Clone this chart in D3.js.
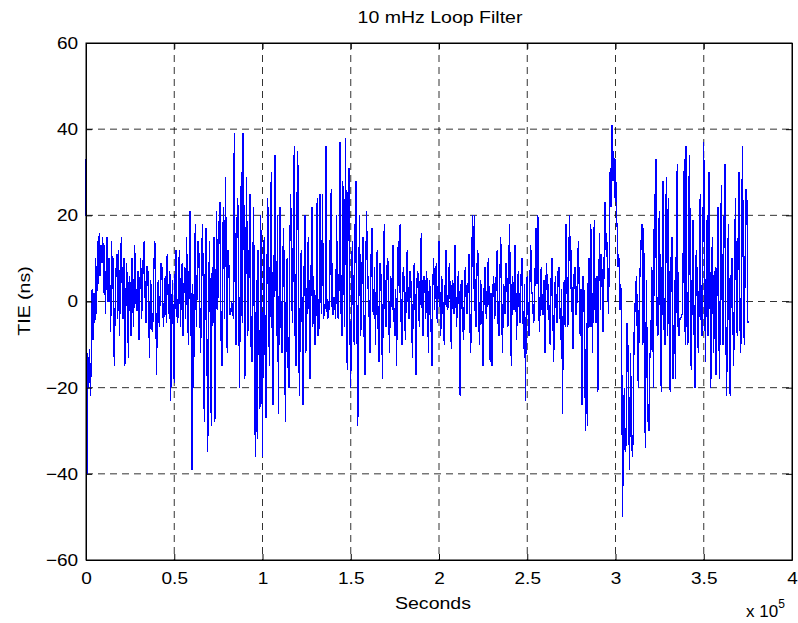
<!DOCTYPE html>
<html>
<head>
<meta charset="UTF-8">
<title>10 mHz Loop Filter</title>
<style>
  body { margin: 0; background: #fff; }
  text { font-family: "Liberation Sans", Arial, sans-serif; fill: #000; }
  .grid line { stroke: #000; stroke-dasharray: 7,5; stroke-width: 1; opacity: .8; }
  .axis path, .axis line { stroke: #000; }
</style>
</head>
<body>
<svg id="chart" width="798" height="623"></svg>
<script src="https://d3js.org/d3.v7.min.js"></script>
<script>
// sampling interval of the TIE record, seconds
const SAMPLE_STEP = 500;
// TIE (ns), one value per 500 s
const TIE = [
  33,-40,-12,-20,-11,-22,-13,3,-9,2,-5,10,-3,14,4,16,6,13,9,15,
  2,13,-3,8,15,0,10,4,-7,14,3,10,-15,-2,7,11,-4,12,-8,6,
  15,4,-4,10,-15,-3,9,2,-13,6,4,-8,10,0,-6,13,8,-2,-2,7,
  -9,3,10,-4,2,12,14,1,-5,8,8,-2,-13,5,3,-7,-4,9,14,0,
  -17,3,5,-6,1,9,8,-2,-6,4,6,-5,11,2,-3,7,-23,-4,5,-8,
  -19,6,12,-3,-5,8,12,-6,2,9,-8,3,8,-4,15,2,-10,9,21,-2,
  -39,4,-20,11,18,-6,4,14,11,-3,-12,9,18,2,-28,6,17,-10,-35,3,
  14,-10,-29,8,-5,15,-28,-6,21,-2,5,20,23,-8,-15,16,22,-4,29,10,
  -12,12,8,-3,-3,0,-1,-4,39,5,-10,18,24,2,-20,10,30,-5,39,20,
  -18,6,29,-8,-5,14,25,-10,-14,8,22,-20,-36,5,-32,12,-9,-25,20,-4,
  -36,8,15,-12,-27,6,24,-5,-15,18,30,-8,-24,4,34,12,-8,20,-26,3,
  22,-5,-12,10,17,-8,-28,6,10,-15,-20,14,25,2,-5,18,36,-8,-15,22,
  35,-10,-22,8,12,-6,-24,5,20,-12,-8,10,15,-4,-18,6,22,-6,6,-10,
  -10,4,24,-8,-6,25,2,-3,25,-4,-3,-1,36,-2,-4,0,-2,22,26,-3,
  -3,1,-1,-4,20,-3,-4,8,37,-2,-8,28,10,-6,38,12,-16,25,31,-5,
  -20,8,14,-6,-10,18,28,-3,-29,4,20,-8,-5,10,15,-6,-17,8,21,3,
  6,-5,-12,10,17,-2,-3,8,-10,5,12,-6,-14,9,8,-4,-18,6,18,-2,
  -6,8,10,-3,-12,6,5,-2,13,-4,-8,3,-15,9,14,2,18,-4,-10,6,
  8,-3,-9,5,12,0,-4,7,6,-5,-13,4,9,-2,-17,5,7,-3,-6,10,
  16,-3,-8,6,5,-4,7,1,-12,5,3,-6,-15,4,10,-2,6,9,-5,3,
  14,2,-8,6,3,-5,-10,4,12,-1,-2,7,9,-4,-11,5,4,-3,13,2,
  -6,3,7,-2,-22,4,5,-6,-9,6,8,-1,-3,4,11,-5,-12,8,20,3,
  20,-3,-6,8,12,-4,-10,5,3,-6,-15,2,8,-2,-4,7,10,-3,-14,2,
  -15,3,6,-4,-2,8,12,-5,-8,6,15,-2,-12,4,3,-3,9,5,-6,8,
  18,-4,-15,6,4,-2,13,3,-9,5,7,-3,-5,6,10,-2,-11,4,-23,2,
  6,-3,-8,5,13,2,2,-5,-4,8,17,4,20,-2,-7,6,8,-3,-3,5,
  -12,4,9,-2,4,-6,-10,5,10,-3,-14,2,6,-4,-5,7,8,-2,-9,3,
  -26,2,5,-6,18,4,-6,10,20,3,12,-4,-11,6,8,-3,-3,9,14,2,
  -8,3,-24,6,5,-10,-30,-5,-29,4,10,-6,18,2,-12,8,19,-3,-5,6,
  -21,4,16,-2,11,5,-7,8,23,12,16,6,-3,10,31,22,41,28,35,24,
  33,20,17,8,10,-2,4,-8,-50,-30,-20,-35,-33,-5,-10,-28,-39,-12,-25,-36,
  -32,-8,-2,4,6,-15,-20,2,8,14,18,-10,17,-25,-34,5,-15,-28,-30,-12,
  -13,8,5,-20,25,10,33,-5,-8,18,21,-15,-21,12,28,-6,-10,22,29,-8,
  24,-12,-21,10,15,-18,-15,5,-18,20,32,-6,-8,-4,-4,-3,-3,18,33,-10,
  36,-5,-10,25,34,-12,-16,8,19,-6,-20,10,12,-8,-12,6,25,-4,-8,14,
  37,4,-14,12,20,-8,30,5,-20,10,15,-12,-5,8,-17,4,22,-6,-18,12,
  27,-4,-10,18,32,-6,-22,8,18,-10,-22,6,10,-4,-15,12,24,-2,-8,15,
  30,-5,-12,20,36,-3,-10,12,26,23,-5
];
const X_TICKS = [0, 50000, 100000, 150000, 200000, 250000, 300000, 350000, 400000];
const Y_TICKS = [-60, -40, -20, 0, 20, 40, 60];

const W = 798, H = 623;
const m = { left: 86, right: 6, top: 43, bottom: 63 };
const iw = W - m.left - m.right, ih = H - m.top - m.bottom;

const svg = d3.select('#chart');
svg.append('rect').attr('width', W).attr('height', H).attr('fill', '#fff');
const g = svg.append('g').attr('transform', `translate(${m.left},${m.top})`);

const x = d3.scaleLinear().domain([0, 400000]).range([0, iw]);
const y = d3.scaleLinear().domain([-60, 60]).range([ih, 0]);

// grid
g.append('g').attr('class', 'grid')
  .selectAll('line').data(X_TICKS.slice(1, -1)).join('line')
  .attr('x1', d => x(d)).attr('x2', d => x(d)).attr('y1', 0).attr('y2', ih);
g.append('g').attr('class', 'grid')
  .selectAll('line').data(Y_TICKS.slice(1, -1)).join('line')
  .attr('x1', 0).attr('x2', iw).attr('y1', d => y(d)).attr('y2', d => y(d));

// data line
const pts = TIE.map((v, i) => [i * SAMPLE_STEP, v]);
g.append('path').datum(pts)
  .attr('fill', 'none').attr('stroke', '#0000ff').attr('stroke-width', 1.3)
  .attr('shape-rendering', 'crispEdges')
  .attr('d', d3.line().x(d => x(d[0])).y(d => y(d[1])));

// axes, ticks inward on all four sides
const fmtX = d => String(d / 1e5);
const bottom = g.append('g').attr('class', 'axis').attr('transform', `translate(0,${ih})`)
  .call(d3.axisBottom(x).tickValues(X_TICKS).tickFormat(fmtX).tickSizeInner(-6).tickSizeOuter(0).tickPadding(12));
g.append('g').attr('class', 'axis')
  .call(d3.axisTop(x).tickValues(X_TICKS).tickFormat('').tickSizeInner(-6).tickSizeOuter(0));
const left = g.append('g').attr('class', 'axis')
  .call(d3.axisLeft(y).tickValues(Y_TICKS).tickSizeInner(-6).tickSizeOuter(0).tickPadding(7));
g.append('g').attr('class', 'axis').attr('transform', `translate(${iw},0)`)
  .call(d3.axisRight(y).tickValues(Y_TICKS).tickFormat('').tickSizeInner(-6).tickSizeOuter(0));
g.append('rect').attr('width', iw).attr('height', ih)
  .attr('fill', 'none').attr('stroke', '#000').attr('stroke-width', 1);

bottom.selectAll('text').attr('font-size', 17).attr('font-family', null)
  .attr('transform', 'scale(1.12,1)');
left.selectAll('text').attr('font-size', 17).attr('font-family', null)
  .attr('transform', 'scale(1.12,1)');

// labels
svg.append('text').attr('x', 440).attr('y', 23).attr('text-anchor', 'middle')
  .attr('font-size', 17).attr('transform', 'translate(440,0) scale(1.15,1) translate(-440,0)')
  .text('10 mHz Loop Filter');
svg.append('text').attr('x', 433).attr('y', 609).attr('text-anchor', 'middle')
  .attr('font-size', 17).attr('transform', 'translate(433,0) scale(1.15,1) translate(-433,0)')
  .text('Seconds');
svg.append('text').attr('transform', 'translate(30,301) rotate(-90) scale(1.15,1)')
  .attr('text-anchor', 'middle').attr('font-size', 17).text('TIE (ns)');
const ex = svg.append('text').attr('x', 746).attr('y', 617).attr('font-size', 17);
ex.append('tspan').text('x 10');
ex.append('tspan').attr('font-size', 12).attr('dy', -9).text('5');
</script>
</body>
</html>
